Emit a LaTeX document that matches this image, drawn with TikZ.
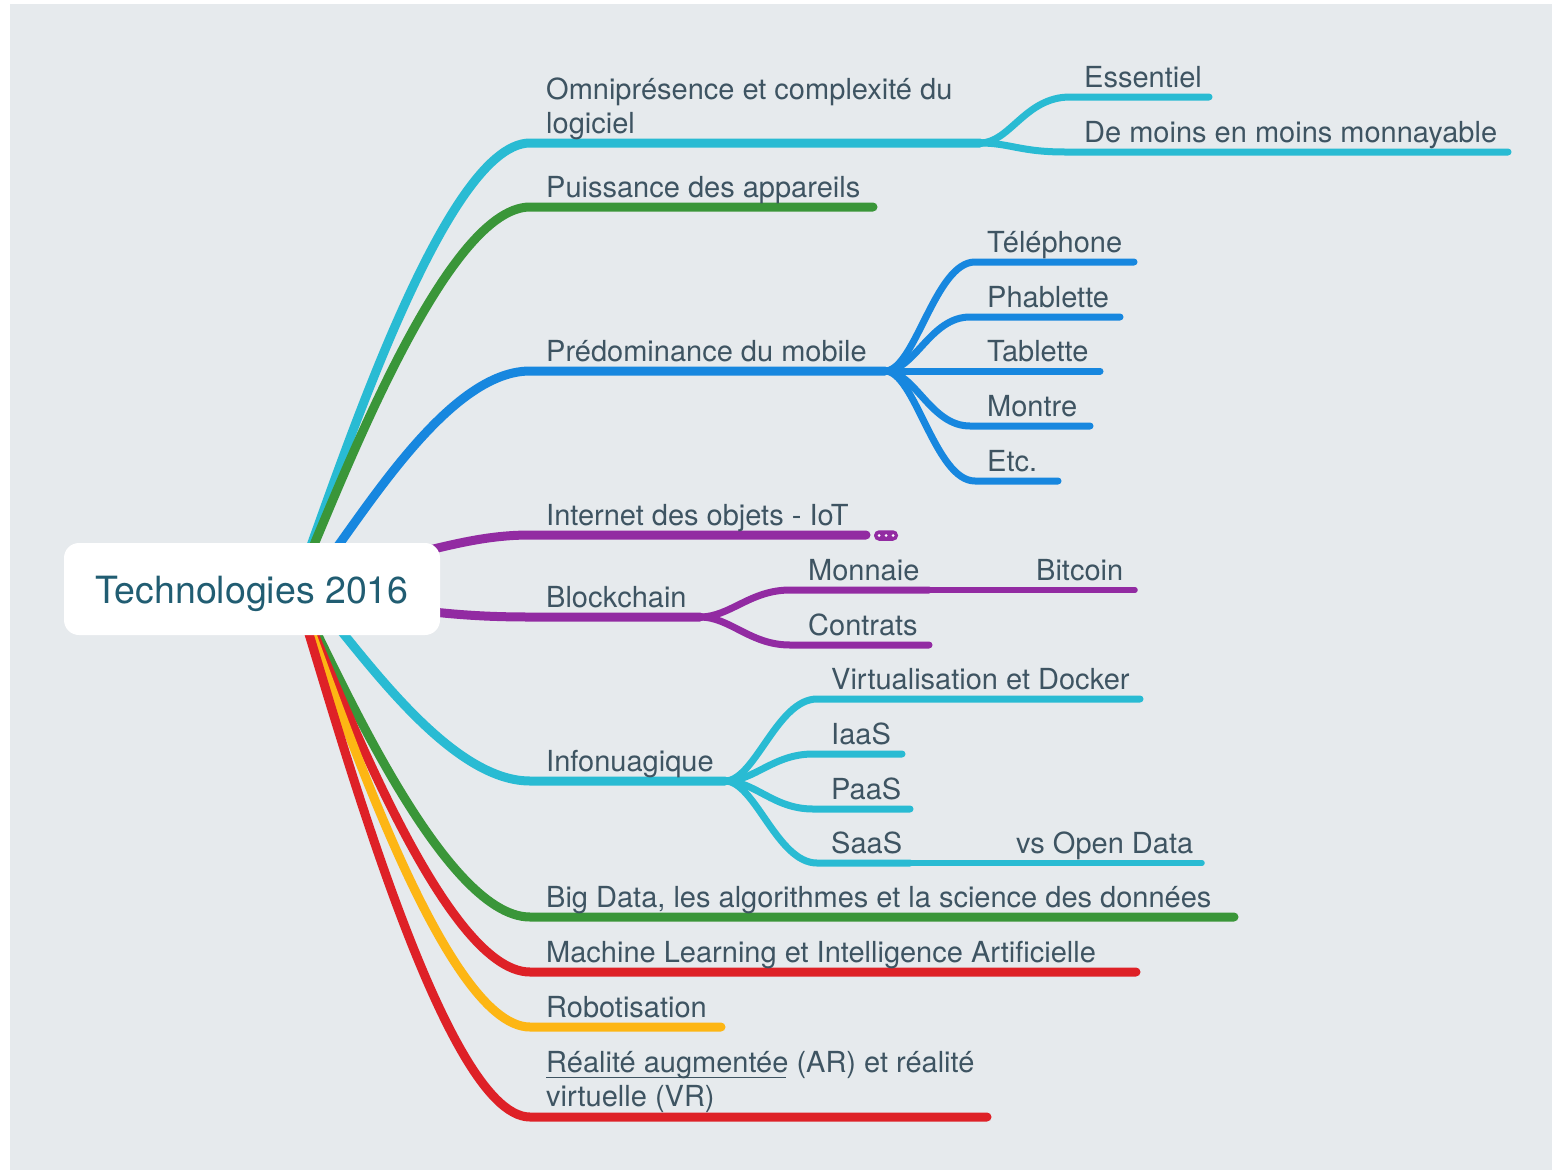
\documentclass[tikz,border=0pt]{standalone}
\usepackage{fontspec}
\setmainfont{TeX Gyre Heros}
\usetikzlibrary{calc}
\definecolor{bg}{HTML}{E6EAED}
\definecolor{cyanb}{HTML}{29BBD3}
\definecolor{greenb}{HTML}{3A9639}
\definecolor{blueb}{HTML}{1787DF}
\definecolor{purpb}{HTML}{922BA2}
\definecolor{redb}{HTML}{DE2127}
\definecolor{yelb}{HTML}{FDB614}
\definecolor{txt}{HTML}{3E5462}
\definecolor{roottxt}{HTML}{215D72}
\begin{document}
\begin{tikzpicture}[x=1pt,y=-1pt,
  br/.style={line width=9pt,line cap=round},
  sb/.style={line width=7pt,line cap=round},
  ssb/.style={line width=5.5pt,line cap=round},
  lbl/.style={anchor=base west,inner sep=0pt,text=txt,font=\fontsize{29}{34}\selectfont,align=left},
  rootbox/.style={fill=white,rounded corners=15pt,minimum width=376pt,minimum height=92pt,inner sep=0pt}
]
\useasboundingbox (0,0) rectangle (1554,1170);
\fill[white] (0,0) rectangle (1554,1170);
\fill[bg] (10,4) rectangle (1552,1170);

% junction coordinates
\coordinate (rc) at (295,589);
\coordinate (rcb) at (305,589);
\coordinate (omniA) at (530,143);   \coordinate (omniE) at (980,143);
\coordinate (puisA) at (530,207);   \coordinate (puisE) at (873,207);
\coordinate (predA) at (530,371);   \coordinate (predE) at (885,371);
\coordinate (iotS) at (380,562);    \coordinate (iotA) at (530,535);  \coordinate (iotE) at (866,535);
\coordinate (blkS) at (380,605);    \coordinate (blkA) at (530,617);  \coordinate (blkE) at (700,617);
\coordinate (infA) at (530,781);    \coordinate (infE) at (725,781);
\coordinate (bigA) at (530,917);    \coordinate (bigE) at (1234,917);
\coordinate (mlA) at (530,972);     \coordinate (mlE) at (1136,972);
\coordinate (robA) at (530,1027);   \coordinate (robE) at (721,1027);
\coordinate (rarA) at (530,1117);   \coordinate (rarE) at (987,1117);

% main branches
\draw[br,cyanb]  (rc) .. controls +(35,-89) and +(-89,0) .. (omniA) -- (omniE);
\draw[br,greenb] (rc) .. controls +(35,-76) and +(-89,0) .. (puisA) -- (puisE);
\draw[br,blueb]  (rcb) .. controls +(45,-50) and +(-89,0) .. (predA) -- (predE);
\draw[br,purpb]  (iotS) .. controls +(60,-14) and +(-50,0) .. (iotA) -- (iotE);
\draw[br,purpb]  (blkS) .. controls +(60,9) and +(-50,0) .. (blkA) -- (blkE);
\draw[br,cyanb]  (rcb) .. controls +(40,38) and +(-89,0) .. (infA) -- (infE);
\draw[br,greenb] (rc) .. controls +(35,66) and +(-89,0) .. (bigA) -- (bigE);
\draw[br,redb]   (rc) .. controls +(35,77) and +(-89,0) .. (mlA) -- (mlE);
\draw[br,yelb]   (rc) .. controls +(35,88) and +(-89,0) .. (robA) -- (robE);
\draw[br,redb]   (rc) .. controls +(35,106) and +(-89,0) .. (rarA) -- (rarE);

% sub-branch coordinates
\coordinate (essA) at (1070,97);  \coordinate (essE) at (1209,97);
\coordinate (demA) at (1065,152); \coordinate (demE) at (1508,152);
\coordinate (telA) at (975,262);  \coordinate (telE) at (1134,262);
\coordinate (phaA) at (970,317);  \coordinate (phaE) at (1120,317);
\coordinate (tabE) at (1100,371);
\coordinate (monA) at (970,426);  \coordinate (monE) at (1090,426);
\coordinate (etcA) at (975,481);  \coordinate (etcE) at (1058,481);
\coordinate (mnaA) at (790,590);  \coordinate (mnaE) at (929,590);  \coordinate (bitE) at (1135,590);
\coordinate (conA) at (790,645);  \coordinate (conE) at (929,645);
\coordinate (virA) at (817,699);  \coordinate (virE) at (1140,699);
\coordinate (iaaA) at (813,754);  \coordinate (iaaE) at (902,754);
\coordinate (paaA) at (813,809);  \coordinate (paaE) at (910,809);
\coordinate (saaA) at (817,863);  \coordinate (saaE) at (910,863);  \coordinate (vsoE) at (1202,863);

\draw[sb,cyanb] (omniE) .. controls +(30,0) and +(-45,0) .. (essA) -- (essE);
\draw[sb,cyanb] (omniE) .. controls +(30,0) and +(-45,0) .. (demA) -- (demE);

\draw[sb,blueb] (predE) .. controls +(30,0) and +(-40,0) .. (telA) -- (telE);
\draw[sb,blueb] (predE) .. controls +(30,0) and +(-40,0) .. (phaA) -- (phaE);
\draw[sb,blueb] (predE) -- (tabE);
\draw[sb,blueb] (predE) .. controls +(30,0) and +(-40,0) .. (monA) -- (monE);
\draw[sb,blueb] (predE) .. controls +(30,0) and +(-40,0) .. (etcA) -- (etcE);

\draw[sb,purpb] (blkE) .. controls +(30,0) and +(-40,0) .. (mnaA) -- (mnaE);
\draw[ssb,purpb] (mnaE) -- (bitE);
\draw[sb,purpb] (blkE) .. controls +(30,0) and +(-40,0) .. (conA) -- (conE);

\draw[sb,cyanb] (infE) .. controls +(30,0) and +(-40,0) .. (virA) -- (virE);
\draw[sb,cyanb] (infE) .. controls +(30,0) and +(-40,0) .. (iaaA) -- (iaaE);
\draw[sb,cyanb] (infE) .. controls +(30,0) and +(-40,0) .. (paaA) -- (paaE);
\draw[sb,cyanb] (infE) .. controls +(30,0) and +(-40,0) .. (saaA) -- (saaE);
\draw[ssb,cyanb] (saaE) -- (vsoE);

% IoT collapsed marker
\node[fill=purpb,rounded corners=5pt,minimum width=24pt,minimum height=10.5pt,inner sep=0pt] (iotmore) at (886,535.5) {};
\foreach \dx in {-7,0,7} \fill[white] ($(iotmore.center)+(\dx,0)$) circle (1.5);

% root
\node[rootbox] (root) at (252,589) {};
\node[anchor=base,inner sep=0pt,text=roottxt,font=\fontsize{37.5}{42}\selectfont] (roottext) at (252,603) {Technologies 2016};

% labels
\node[lbl] (tomni) at (546,133) {Omniprésence et complexité du\\logiciel};
\node[lbl] (tpuis) at (546,197) {Puissance des appareils};
\node[lbl] (tpred) at (546,361) {Prédominance du mobile};
\node[lbl] (tiot)  at (546,525) {Internet des objets - IoT};
\node[lbl] (tblk)  at (546,607) {Blockchain};
\node[lbl] (tinf)  at (546,771) {Infonuagique};
\node[lbl] (tbig)  at (546,907) {Big Data, les algorithmes et la science des données};
\node[lbl] (tml)   at (546,962) {Machine Learning et Intelligence Artificielle};
\node[lbl] (trob)  at (546,1017) {Robotisation};
\node[lbl] (trar)  at (546,1106) {Réalité augmentée (AR) et réalité\\virtuelle (VR)};
\draw[txt,line width=1.3pt] (546,1077.5) -- (786,1077.5);

\node[lbl] (tess) at (1084,87) {Essentiel};
\node[lbl] (tdem) at (1084,142) {De moins en moins monnayable};
\node[lbl] (ttel) at (987,252) {Téléphone};
\node[lbl] (tpha) at (987,307) {Phablette};
\node[lbl] (ttab) at (987,361) {Tablette};
\node[lbl] (tmon) at (987,416) {Montre};
\node[lbl] (tetc) at (987,471) {Etc.};
\node[lbl] (tmna) at (808,580) {Monnaie};
\node[lbl] (tbit) at (1036,580) {Bitcoin};
\node[lbl] (tcon) at (808,635) {Contrats};
\node[lbl] (tvir) at (831,689) {Virtualisation et Docker};
\node[lbl] (tiaa) at (831,744) {IaaS};
\node[lbl] (tpaa) at (831,799) {PaaS};
\node[lbl] (tsaa) at (831,853) {SaaS};
\node[lbl] (tvso) at (1016,853) {vs Open Data};
\end{tikzpicture}
\end{document}
